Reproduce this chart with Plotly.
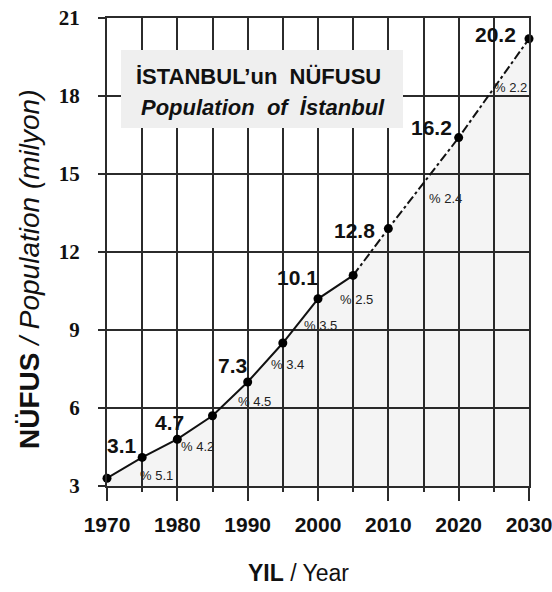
import plotly.graph_objects as go

# -------------------------------------------------
# Data
# -------------------------------------------------
years = [1970, 1975, 1980, 1985, 1990, 1995, 2000, 2005, 2010, 2020, 2030]
population = [3.3, 4.1, 4.8, 5.7, 7.0, 8.5, 10.2, 11.1, 12.9, 16.4, 20.2]

# labelled decade values (text shown next to the points)
label_years = [1970, 1980, 1990, 2000, 2010, 2020, 2030]
label_values = ["3.1", "4.7", "7.3", "10.1", "12.8", "16.2", "20.2"]

# annual growth rates (%) along the curve
growth_rates = ["5.1", "4.2", "4.5", "3.4", "3.5", "2.5", "2.4", "2.2"]
growth_x = [1977.1, 1982.8, 1991.0, 1995.7, 2000.4, 2005.5, 2018.1, 2027.4]
growth_y = [3.42, 4.53, 6.24, 7.68, 9.18, 10.16, 14.05, 18.33]

x_ticks = [1970, 1980, 1990, 2000, 2010, 2020, 2030]
y_ticks = [3, 6, 9, 12, 15, 18, 21]

SANS = "Liberation Sans, Arial, sans-serif"
SERIF = "Liberation Serif, Times New Roman, serif"
GRID = "#2b2b2b"

split = years.index(2005)


def px_x(px):
    # pixel column -> paper x (plot area spans 107..529)
    return (px - 107) / 422


def px_y(py):
    # pixel row -> paper y (plot area spans 18..486)
    return (486 - py) / 468


fig = go.Figure()

# shaded area under the curve
fig.add_trace(go.Scatter(
    x=years, y=population, mode="lines", line=dict(width=0),
    fill="tozeroy", fillcolor="rgba(0,0,0,0.045)", hoverinfo="skip"
))
# observed part: solid line
fig.add_trace(go.Scatter(
    x=years[:split + 1], y=population[:split + 1], mode="lines",
    line=dict(color="#111111", width=2)
))
# projection: dash-dot line
fig.add_trace(go.Scatter(
    x=years[split:], y=population[split:], mode="lines",
    line=dict(color="#111111", width=2, dash="dashdot")
))
# points
fig.add_trace(go.Scatter(
    x=years, y=population, mode="markers",
    marker=dict(color="#000000", size=9), cliponaxis=False
))

# value labels (pixel offsets from their points)
label_shift = [(15, 33), (-8, 17), (-15, 17), (-21, 21), (-34, -2), (-27, 10), (-34, 4)]
for yr, txt, (dx, dy) in zip(label_years, label_values, label_shift):
    fig.add_annotation(
        x=yr, y=population[years.index(yr)], text=f"<b>{txt}</b>",
        showarrow=False, xshift=dx, yshift=dy,
        xanchor="center", yanchor="middle",
        font=dict(family=SANS, size=21, color="#111111")
    )

# growth rate labels
for gx, gy, g in zip(growth_x, growth_y, growth_rates):
    fig.add_annotation(
        x=gx, y=gy, text=f"% {g}", showarrow=False,
        xanchor="center", yanchor="middle",
        font=dict(family=SANS, size=13, color="#222222")
    )

# title box
fig.add_shape(
    type="rect", xref="paper", yref="paper",
    x0=px_x(121), x1=px_x(403), y0=px_y(128), y1=px_y(50),
    fillcolor="#efefef", line=dict(width=0), layer="above"
)
fig.add_annotation(
    xref="paper", yref="paper", x=px_x(258), y=px_y(76),
    xanchor="center", yanchor="middle",
    text="<b>İSTANBUL’un&nbsp;&nbsp;NÜFUSU</b>", showarrow=False,
    font=dict(family=SANS, size=22, color="#111111")
)
fig.add_annotation(
    xref="paper", yref="paper", x=px_x(263), y=px_y(108),
    xanchor="center", yanchor="middle",
    text="<b><i>Population&nbsp;&nbsp;of&nbsp;&nbsp;İstanbul</i></b>", showarrow=False,
    font=dict(family=SANS, size=22, color="#111111")
)

# axis titles
fig.add_annotation(
    xref="paper", yref="paper", x=px_x(29), y=px_y(270),
    xanchor="center", yanchor="middle",
    text="<b>NÜFUS</b> <i>/ Population (milyon)</i>", textangle=-90,
    showarrow=False, font=dict(family=SANS, size=28, color="#111111")
)
fig.add_annotation(
    xref="paper", yref="paper", x=px_x(298), y=px_y(573),
    xanchor="center", yanchor="middle",
    text="<b>YIL</b> / Year", showarrow=False,
    font=dict(family=SANS, size=23, color="#111111")
)

fig.update_xaxes(
    range=[1970, 2030], tickvals=x_ticks, ticktext=[str(v) for v in x_ticks],
    ticks="outside", ticklen=13, tickwidth=1.5, tickcolor=GRID,
    showgrid=True, gridcolor=GRID, gridwidth=1.5,
    minor=dict(dtick=5, tick0=1970, ticks="outside", ticklen=4, tickwidth=1.5,
               tickcolor=GRID, showgrid=True, gridcolor=GRID, gridwidth=1.5),
    showline=True, linecolor=GRID, linewidth=2, mirror=True, zeroline=False,
    ticklabeloverflow="allow", automargin=False, ticklabelstandoff=6,
    tickfont=dict(family=SANS, size=21, color="#111111", weight="bold")
)
fig.update_yaxes(
    range=[3, 21], tickvals=y_ticks,
    ticks="outside", ticklen=7, tickwidth=1.5, tickcolor=GRID,
    showgrid=True, gridcolor=GRID, gridwidth=2,
    showline=True, linecolor=GRID, linewidth=2, mirror=True, zeroline=False,
    ticklabelstandoff=14, automargin=False,
    tickfont=dict(family=SERIF, size=21, color="#111111", weight="bold")
)

fig.update_layout(
    width=552, height=592,
    margin=dict(l=107, r=23, t=18, b=106),
    paper_bgcolor="white", plot_bgcolor="white",
    showlegend=False
)

fig.write_html("out.html", config={"displayModeBar": False},
               post_script="document.body.style.margin='0';")
